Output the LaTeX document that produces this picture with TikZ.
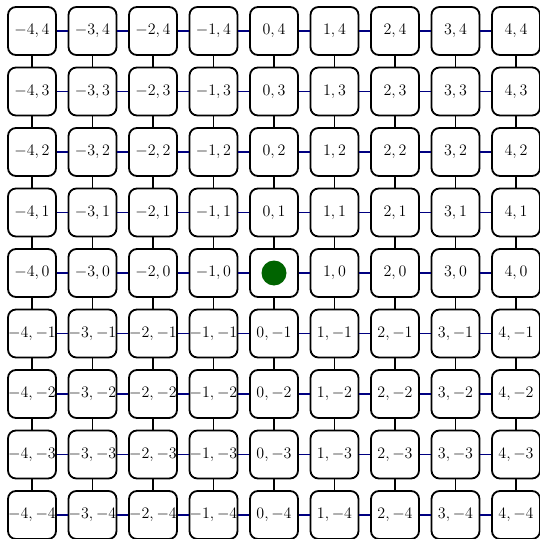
\RequirePackage{fix-cm}
\documentclass[tikz,border=0pt]{standalone}
\usepackage{xcolor}
\usepackage{tikz}
\usetikzlibrary{positioning}

\definecolor{linknavy}{RGB}{0,0,128}
\definecolor{goalgreen}{RGB}{0,100,0}

\begin{document}
\begin{tikzpicture}[x=60.5pt, y=60.5pt, font=\fontsize{16}{19}\selectfont,
      cell/.style={draw, line width=1.8pt, rounded corners=8pt, fill=white, minimum size=48pt, inner sep=0pt},
      goaldot/.style={circle, fill=goalgreen, minimum size=25pt, inner sep=0pt},
      hlink/.style={draw=linknavy, line width=1.8pt},
      vlink/.style={draw=black, line width=1.8pt}]
    \useasboundingbox (-274pt,-265pt) rectangle (266pt,273pt);
    % --- cells, one per grid point ---
    \foreach \i in {0,...,8}
      \foreach \j in {0,...,8} {
        \pgfmathtruncatemacro{\cx}{\i-4}
        \pgfmathtruncatemacro{\cy}{\j-4}
        \node[cell] (c\i\j) at (\cx,\cy)
          {\ifnum\numexpr\cx*\cx+\cy*\cy\relax=0 \else$\cx, \cy$\fi};
      }
    \node[goaldot] (goal) at (c44) {};
    % --- links between neighbours ---
    \foreach \i in {0,...,7}
      \foreach \j in {0,...,8} {
        \pgfmathtruncatemacro{\k}{\i+1}
        \draw[hlink] (c\i\j) -- (c\k\j);
        \draw[vlink] (c\j\i) -- (c\j\k);
      }
  \end{tikzpicture}
\end{document}
